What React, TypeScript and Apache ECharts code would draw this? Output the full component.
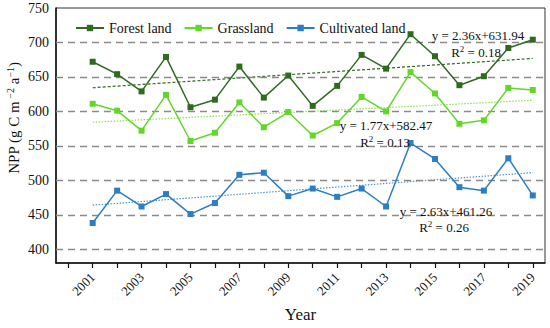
import React, { useEffect, useRef } from "react";
import * as echarts from "echarts";

const categories = ["2000","2001","2002","2003","2004","2005","2006","2007","2008","2009","2010","2011","2012","2013","2014","2015","2016","2017","2018","2019"];
const forest = [null, 672, 654, 629, 679, 606, 617, 665, 620, 652, 608, 637, 682, 662, 712, 680, 638, 651, 692, 704];
const grass = [null, 611, 601, 572, 624, 557, 569, 613, 577, 599, 565, 583, 621, 600, 657, 626, 582, 587, 634, 631];
const cultivated = [null, 438, 485, 462, 480, 451, 467, 508, 511, 477, 488, 476, 488, 462, 554, 531, 490, 485, 532, 478];
const forestTrend = [["2001", 634.3], ["2019", 676.8]];
const grassTrend = [["2001", 584.2], ["2019", 616.1]];
const cultTrend = [["2001", 463.9], ["2019", 511.2]];
const gridValues = [400, 450, 500, 550, 600, 650, 700];

const SERIF = "'Liberation Serif', 'Times New Roman', serif";
const C_FOREST = "#2e6b1f";
const C_GRASS = "#62d826";
const C_CULT = "#2b7dc6";

export default function App() {
  const ref = useRef<HTMLDivElement>(null);
  useEffect(() => {
    const chart = echarts.init(ref.current!, null, { renderer: "svg" });
    const supRich = {
      a: { fontSize: 13, fontFamily: SERIF, fill: "#111" },
      s: { fontSize: 9, fontFamily: SERIF, fill: "#111", padding: [0, 0, 7, 0] },
    };
    const ann = (x: number, y: number, text: string) => ({
      type: "text",
      x,
      y,
      z: 100,
      style: {
        text,
        fontSize: 13,
        fontFamily: SERIF,
        fill: "#111",
        align: "center",
        verticalAlign: "middle",
        rich: supRich,
      },
    });
    const mainSeries = (name: string, data: any[], color: string) => ({
      name,
      type: "line",
      data,
      symbol: "rect",
      symbolSize: 6,
      lineStyle: { color, width: 1.5 },
      itemStyle: { color },
      z: 5,
    });
    const trend = (data: any[], color: string, type: any) => ({
      type: "line",
      data,
      symbol: "none",
      lineStyle: { color, width: 1.2, type },
      z: 3,
      silent: true,
    });
    chart.setOption({
      animation: false,
      grid: { left: 56, right: 5, top: 8, bottom: 62, show: true, borderColor: "#333", borderWidth: 1 },
      legend: {
        data: ["Forest land", "Grassland", "Cultivated land"],
        left: 70,
        top: 16,
        itemWidth: 28,
        itemHeight: 8,
        itemGap: 12,
        textStyle: { fontFamily: SERIF, fontSize: 14, color: "#111" },
      },
      xAxis: {
        type: "category",
        data: categories,
        boundaryGap: true,
        name: "Year",
        nameLocation: "middle",
        nameGap: 42,
        nameTextStyle: { fontFamily: SERIF, fontSize: 17, color: "#111", lineHeight: 18 },
        axisLine: { lineStyle: { color: "#111", width: 1.5 } },
        axisTick: { show: true, alignWithLabel: true, interval: 0, length: 5, lineStyle: { color: "#111", width: 1.2 } },
        axisLabel: {
          rotate: 45,
          interval: (i: number, v: string) => Number(v) % 2 === 1,
          fontFamily: SERIF,
          fontSize: 13,
          color: "#111",
          margin: 12,
        },
        splitLine: { show: false },
      },
      yAxis: {
        type: "value",
        min: 380,
        max: 750,
        interval: 10,
        axisLine: { show: true, lineStyle: { color: "#111", width: 1.5 } },
        axisTick: { show: false },
        axisLabel: {
          fontFamily: SERIF,
          fontSize: 14,
          color: "#111",
          margin: 7,
          formatter: (v: number) => (v % 50 === 0 ? String(v) : ""),
        },
        splitLine: { show: false },
      },
      series: [
        {
          type: "line",
          data: [],
          markLine: {
            silent: true,
            symbol: "none",
            label: { show: false },
            lineStyle: { color: "#8a8a8a", type: [7, 5], width: 1.3 },
            data: gridValues.map((v) => ({ yAxis: v })),
          },
          z: 1,
        },
        trend(forestTrend, C_FOREST, [3, 2]),
        trend(grassTrend, "#8ae44e", [1.5, 1.5]),
        trend(cultTrend, "#4f94d0", [1.5, 1.5]),
        mainSeries("Forest land", forest, C_FOREST),
        mainSeries("Grassland", grass, C_GRASS),
        mainSeries("Cultivated land", cultivated, C_CULT),
      ],
      graphic: [
        {
          type: "text",
          x: 14,
          y: 118,
          rotation: Math.PI / 2,
          style: {
            text: "{a|NPP (g C m}{s| −2}{a| a}{s|−1}{a|)}",
            align: "center",
            verticalAlign: "middle",
            rich: {
              a: { fontSize: 15, fontFamily: SERIF, fill: "#111" },
              s: { fontSize: 10, fontFamily: SERIF, fill: "#111", padding: [0, 0, 8, 0] },
            },
          },
        },
        ann(478, 35, "{a|y = 2.36x+631.94}"),
        ann(476, 52, "{a|R}{s|2}{a| = 0.18}"),
        ann(386, 125, "{a|y = 1.77x+582.47}"),
        ann(385, 142, "{a|R}{s|2}{a| = 0.13}"),
        ann(446, 211, "{a|y = 2.63x+461.26}"),
        ann(444, 227, "{a|R}{s|2}{a| = 0.26}"),
      ],
    });
    return () => chart.dispose();
  }, []);
  return (
    <div
      ref={ref}
      style={{ position: "absolute", left: 0, top: 0, width: 550, height: 328, background: "#fff" }}
    />
  );
}
